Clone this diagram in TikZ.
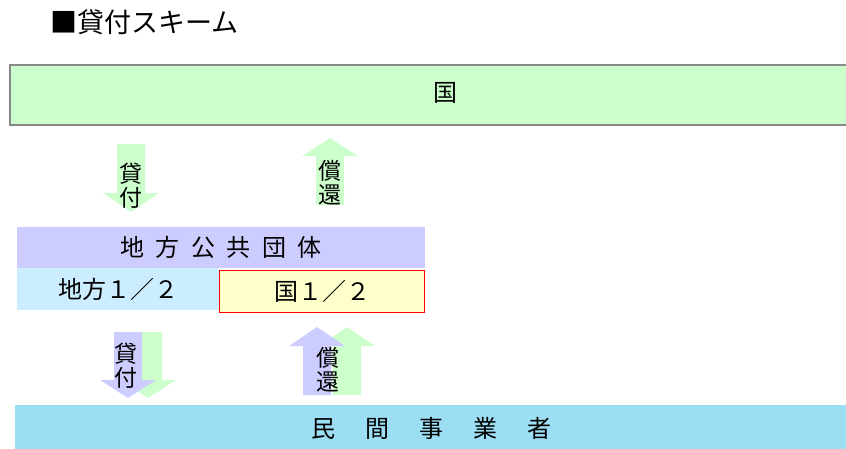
\documentclass[tikz,border=0pt]{standalone}
\usepackage{fontspec}
\newfontfamily\cjk{Noto Sans CJK JP}
\usepackage{tikz}
\usetikzlibrary{positioning}

\definecolor{kgreen}{HTML}{CCFFCC}
\definecolor{kviolet}{HTML}{CCCCFF}
\definecolor{kblue}{HTML}{CCECFF}
\definecolor{kyellow}{HTML}{FFFFCC}
\definecolor{ksky}{HTML}{9CDFF4}
\definecolor{kgray}{HTML}{888888}

% block arrow: colour, centre x, tail y, tip y, head base y
\newcommand\blkarrow[5]{%
  \fill[#1] (#2-14,#3) -- (#2+14,#3) -- (#2+14,#5) -- (#2+28,#5) -- (#2,#4)
    -- (#2-28,#5) -- (#2-14,#5) -- cycle;}
\newcommand\wgap{\hspace{11.5pt}}
\newcommand\wwgap{\hspace{30pt}}

\begin{document}
\begin{tikzpicture}[x=1pt,y=-1pt,
  box/.style={inner sep=0pt,font=\cjk\fontsize{24}{25}\selectfont},
  lbl/.style={inner sep=0pt,align=center,font=\cjk\fontsize{23}{24}\selectfont}]
  \useasboundingbox (0,0) rectangle (846,448);

  \node[anchor=west,inner sep=0pt,font=\cjk\fontsize{27}{28}\selectfont] (title) at (50,22) {■貸付スキーム};

  \node[box,fill=kgreen,draw=kgray,line width=1.8pt,minimum width=870pt,minimum height=60pt] (kuni) at (445,95) {\raisebox{6pt}{国}};

  %\blkarrow{kgreen}{131}{144}{212}{193}
  \blkarrow{kgreen}{131}{144}{212}{193}
  \blkarrow{kgreen}{330}{205}{138}{156}
  \node[lbl] (kashi1) at (131,186) {貸\\付};
  \node[lbl] (shokan1) at (330,183) {償\\還};

  \node[box,fill=kviolet,minimum width=408pt,minimum height=41pt] (chiho) at (221,247.5) {\raisebox{2pt}{地\wgap 方\wgap 公\wgap 共\wgap 団\wgap 体}};
  \node[box,fill=kblue,minimum width=202pt,minimum height=42pt] (chihohalf) at (118,289) {地方１／２};
  \node[box,fill=kyellow,draw=red,line width=1.8pt,minimum width=205pt,minimum height=42pt] (kunihalf) at (322,291.5) {国１／２};

  \blkarrow{kgreen}{148}{332}{398}{380}
  \blkarrow{kviolet}{128}{332}{398}{380}
  \blkarrow{kgreen}{347}{395}{327}{346}
  \blkarrow{kviolet}{317}{395}{327}{346}
  \node[lbl] (kashi2) at (126,366) {貸\\付};
  \node[lbl] (shokan2) at (328,370) {償\\還};

  \node[box,fill=ksky,minimum width=833pt,minimum height=46pt] (minkan) at (431.5,428) {民\wwgap 間\wwgap 事\wwgap 業\wwgap 者};
\end{tikzpicture}
\end{document}
